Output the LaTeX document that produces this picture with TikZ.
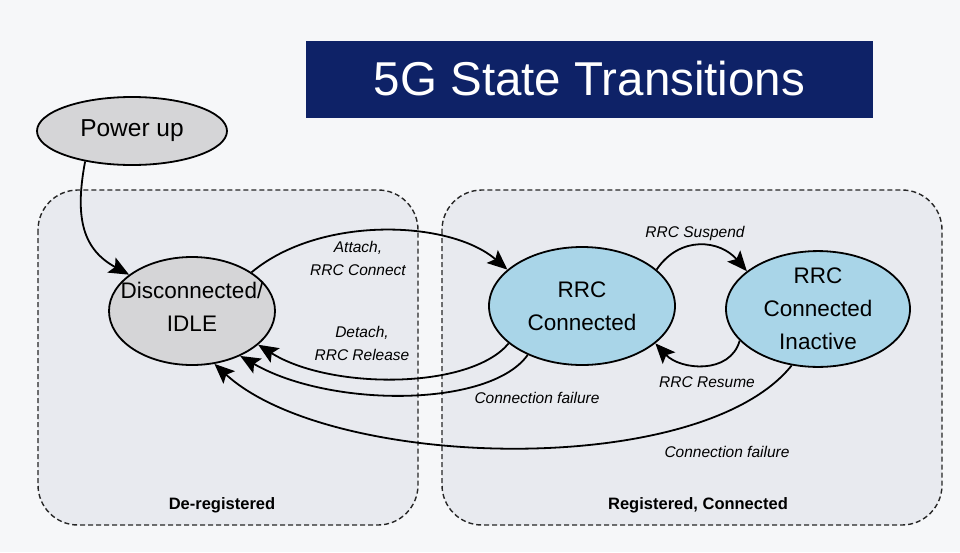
\documentclass[tikz,border=0pt]{standalone}
\usepackage{fontspec}
\setmainfont{Liberation Sans}
\usetikzlibrary{shapes.geometric,arrows.meta}
\definecolor{bgc}{HTML}{F6F7F9}
\definecolor{regionc}{HTML}{E8EAEF}
\definecolor{grayc}{HTML}{D5D5D7}
\definecolor{bluec}{HTML}{A9D5E8}
\definecolor{navyc}{HTML}{0E2267}
\tikzset{
  region/.style={draw=black!85, fill=regionc, dashed, dash pattern=on 5pt off 3pt, line width=1.4pt, rounded corners=40pt},
  state/.style={ellipse, draw=black, line width=1.8pt, inner sep=0pt, align=center, font=\fontsize{22.5}{33}\selectfont},
  graystate/.style={state, fill=grayc},
  bluestate/.style={state, fill=bluec},
  conn/.style={line width=1.8pt, -{Stealth[length=20pt,width=17pt,inset=4pt]}},
  lbl/.style={font=\fontsize{15.5}{23}\itshape\selectfont, align=center, inner sep=0pt},
  reglbl/.style={font=\fontsize{16.5}{20}\bfseries\selectfont, inner sep=0pt},
}
\begin{document}
\begin{tikzpicture}[x=1pt,y=-1pt]
\path[fill=bgc] (0,0) rectangle (960,552);
\useasboundingbox (0,0) rectangle (960,552);
% title
\node[fill=navyc, minimum width=567pt, minimum height=77pt, inner sep=0pt, text=white,
      font=\fontsize{47.5}{50}\selectfont] (title) at (589.5,79) {5G State Transitions};
% regions
\draw[region] (38,190) rectangle (418,525);
\draw[region] (442,190) rectangle (942,525);
\node[reglbl] (dereg) at (222,505) {De-registered};
\node[reglbl] (reg) at (698,505) {Registered, Connected};
% states
\node[graystate, minimum width=190pt, minimum height=68pt, font=\fontsize{24.5}{30}\selectfont] (pu) at (132,131) {\raisebox{-2pt}{Power up}};
\node[graystate, minimum width=166pt, minimum height=108pt] (dis) at (192,311) {};
\node[state, draw=none, fill=none] (distext) at (192,307) {Disconnected/\\IDLE};
\node[bluestate, minimum width=186pt, minimum height=118pt] (rc) at (582,306) {RRC\\Connected};
\node[bluestate, minimum width=184pt, minimum height=114pt] (ri) at (818,309) {RRC\\Connected\\Inactive};
% connectors
\draw[conn] (pu.213) .. controls (74,220) and (84,250) .. (dis.150);
\draw[conn] (dis.33) .. controls (320,215) and (450,220) .. (rc.154);
\draw[conn] (rc.207) .. controls (470,390) and (330,390) .. (dis.-27);
\draw[conn] (rc.222) .. controls (490,408) and (330,408) .. (dis.-43);
\draw[conn] (ri.245) .. controls (700,480) and (330,470) .. (dis.-67);
\draw[conn] (rc.26) .. controls (680,235) and (720,240) .. (ri.152);
\draw[conn] (ri.202) .. controls (730,375) and (680,370) .. (rc.-27);
% labels
\node[lbl] (l1) at (358,258) {Attach,\\RRC Connect};
\node[lbl] (l2) at (362,343) {Detach,\\RRC Release};
\node[lbl] (l3) at (695,233) {RRC Suspend};
\node[lbl] (l4) at (707,382) {RRC Resume};
\node[lbl] (l5) at (537,398) {Connection failure};
\node[lbl] (l6) at (727,452) {Connection failure};
\end{tikzpicture}
\end{document}
